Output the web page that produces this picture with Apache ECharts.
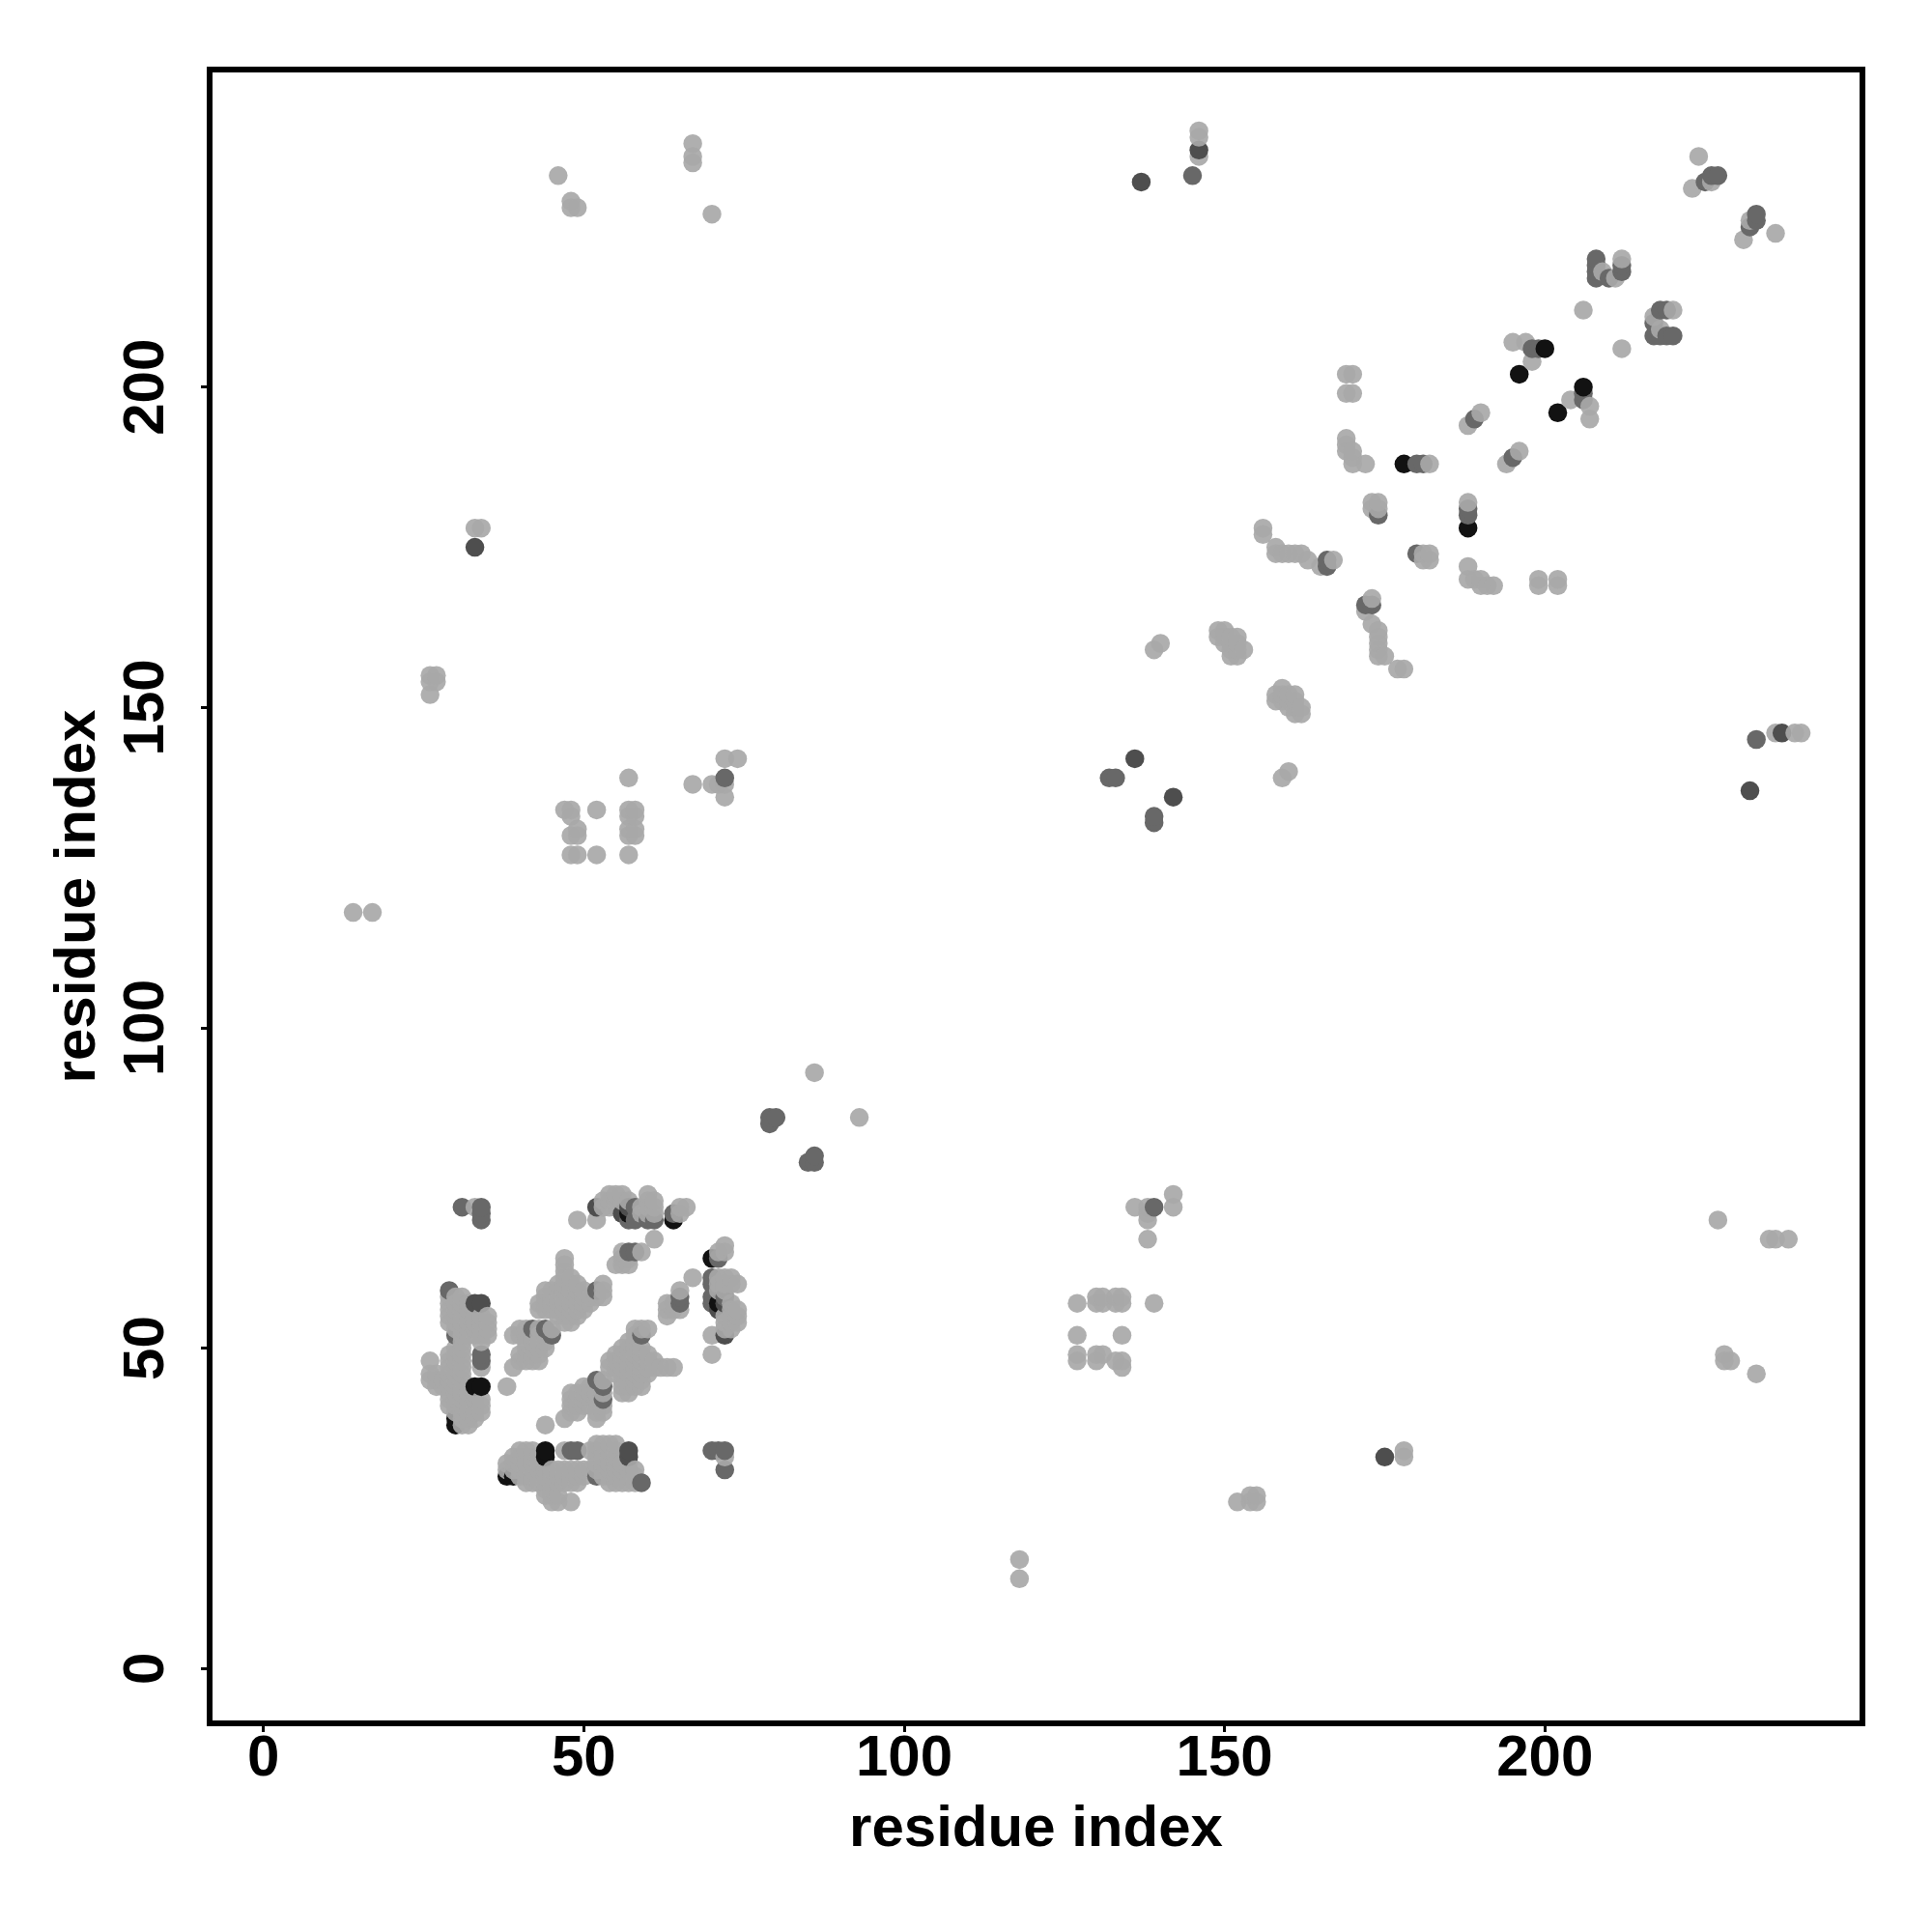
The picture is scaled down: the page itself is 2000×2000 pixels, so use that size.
<!DOCTYPE html>
<html>
<head>
<meta charset="utf-8">
<style>html,body{margin:0;padding:0;background:#fff}#chart{width:2000px;height:2000px}</style>
<script src="https://cdn.jsdelivr.net/npm/echarts@6/dist/echarts.min.js"></script>
</head>
<body>
<div id="chart"></div>
<script>
const tickLabels = [0, 50, 100, 150, 200];
const axisTitle = 'residue index';

const blackContacts = [[33,44],[34,44],[30,38],[30,39],[64,70],[57,71],[178,188],[196,202],[200,206]];
const darkContacts = [[33,175],[136,142],[137,232],[146,237],[52,72],[33,57],[34,57],[57,72],[56,71]];
const midContacts = [[79,85],[79,86],[80,86],[132,139],[133,139],[145,233],[225,232],[226,233],[227,233],
  [208,217],[208,218],[208,219],[208,220],[210,217],[212,218],[212,219],[198,206],[199,206],[189,195],
  [180,188],[181,188],[174,180],[166,172],[166,173],[31,72],[34,70],[34,71],[34,72],[29,59],[30,52],
  [34,48],[34,49],[42,53],[44,53],[45,52],[52,59],[57,65],[58,65],[57,70],[58,70],[60,70],[61,70],[64,71],[58,72],[72,139]];
const lightFar = [[14,118],[17,118],[26,152],[26,154],[26,155],[27,154],[27,155],[33,178],[34,178],
  [46,233],[48,228],[49,228],[48,229],[67,235],[67,236],[67,238],[70,227],[86,93],
  [57,127],[57,130],[57,131],[57,133],[57,134],[58,130],[58,131],[58,133],[58,134],[57,139],
  [52,134],[52,127],[47,134],[48,134],[48,133],[49,131],[48,130],[49,130],[48,127],[49,127],
  [67,138],[70,138],[71,138],[72,138],[72,136],[72,142],[74,142],[139,159],[140,160],
  [146,236],[146,239],[146,240]];
const lightUpper = [[224,236],[223,231],[226,232],[209,218],[211,217],[212,220],[206,212],[195,207],[197,207],
  [198,204],[188,194],[190,196],[169,190],[169,191],[169,192],[170,188],[170,189],[170,190],[172,188],[182,188],
  [169,199],[170,199],[169,202],[170,202],[173,181],[173,182],[174,181],[174,182],
  [156,177],[156,178],[158,174],[158,175],[159,174],[160,174],[161,174],[162,174],[163,173],[165,172],[167,173],
  [149,161],[149,162],[150,160],[150,161],[150,162],[151,158],[151,159],[151,160],[151,161],
  [152,158],[152,159],[152,160],[152,161],[153,159]];
const lightBandA = [[29,58],[30,58],[31,58],[29,57],[30,57],[31,57],[32,57],[29,56],[30,56],[31,56],[32,56],
  [29,55],[30,55],[31,55],[32,55],[33,55],[34,55],[35,55],[29,54],[30,54],[31,54],[32,54],[33,54],[34,54],[35,54],
  [30,53],[31,53],[32,53],[33,53],[34,53],[35,53],[31,52],[32,52],[33,52],[34,52],[35,52],[31,51],[34,51],
  [30,50],[31,50],[29,49],[30,49],[31,49],[26,48],[29,48],[30,48],[31,48],[29,47],[30,47],[31,47],[34,47],
  [26,46],[27,46],[29,46],[30,46],[31,46],[26,45],[27,45],[28,45],[29,45],[30,45],[31,45],
  [27,44],[28,44],[29,44],[30,44],[31,44],[32,44],[29,43],[30,43],[31,43],[32,43],[33,43],
  [29,42],[30,42],[31,42],[32,42],[33,42],[34,42],[29,41],[30,41],[31,41],[32,41],[33,41],[34,41],
  [30,40],[31,40],[32,40],[33,40],[34,40],[31,39],[32,39],[33,39],[31,38],[32,38],[33,72]];
const lightBandB = [[47,64],[47,63],[47,62],[47,61],[48,61],[46,60],[47,60],[48,60],[49,60],[53,60],
  [44,59],[45,59],[46,59],[47,59],[48,59],[49,59],[50,59],[53,59],
  [44,58],[45,58],[46,58],[47,58],[48,58],[49,58],[50,58],[51,58],[52,58],[53,58],
  [43,57],[44,57],[45,57],[46,57],[47,57],[48,57],[49,57],[50,57],[51,57],
  [43,56],[44,56],[45,56],[46,56],[47,56],[48,56],[49,56],[50,56],[46,55],[47,55],[48,55],[49,55],[47,54],[48,54]];
const lightBandC = [[40,53],[41,53],[43,53],[45,53],[39,52],[40,52],[41,52],[42,52],[43,52],[44,52],
  [41,51],[42,51],[43,51],[44,51],[41,50],[42,50],[43,50],[44,50],[40,49],[41,49],[42,49],[43,49],
  [40,48],[41,48],[42,48],[43,48],[39,47],[38,44]];
const lightBandD = [[49,70],[52,70],[53,72],[53,73],[54,72],[54,73],[54,74],[55,72],[55,73],[55,74],[56,73],[56,74],
  [57,73],[59,71],[59,72],[60,71],[60,72],[60,73],[60,74],[61,71],[61,72],[61,73],[61,67],[65,71],[65,72],[66,72],
  [55,63],[56,63],[57,63],[56,64],[57,64],[56,65],[59,65]];
const lightContacts = [].concat(lightFar, lightUpper, lightBandA, lightBandB, lightBandC, lightBandD);

const shades = [
  { pairs: lightContacts, color: 'rgb(168,168,168)', opacity: 0.92 },
  { pairs: midContacts, color: '#686868', opacity: 1 },
  { pairs: darkContacts, color: '#4e4e4e', opacity: 1 },
  { pairs: blackContacts, color: '#121212', opacity: 1 }
];

const points = [];
shades.forEach(function (s) {
  s.pairs.forEach(function (p) {
    const style = { color: s.color, opacity: s.opacity };
    points.push({ value: [p[0], p[1]], itemStyle: style });
    points.push({ value: [p[1], p[0]], itemStyle: style });
  });
});
points.sort(function (a, b) { return a.value[0] - b.value[0] || a.value[1] - b.value[1]; });

const font = { fontFamily: 'Liberation Sans', fontWeight: 'bold', fontSize: 60, color: '#000' };

const chart = echarts.init(document.getElementById('chart'), null, { renderer: 'canvas' });
chart.setOption({
  animation: false,
  backgroundColor: '#fff',
  grid: { left: 217, top: 72, width: 1711, height: 1712, show: true, borderColor: '#000', borderWidth: 6, backgroundColor: 'transparent' },
  xAxis: {
    type: 'value', min: -8.4, max: 249.56,
    name: axisTitle, nameLocation: 'middle', nameGap: 80,
    nameTextStyle: font,
    axisLine: { show: false, onZero: false },
    axisTick: { show: true, length: 9, inside: false, customValues: tickLabels, lineStyle: { color: '#000', width: 3 } },
    axisLabel: Object.assign({ margin: 7, customValues: tickLabels, hideOverlap: false }, font),
    splitLine: { show: false }
  },
  yAxis: {
    type: 'value', min: -8.56, max: 249.56,
    name: axisTitle, nameLocation: 'middle', nameGap: 106, nameRotate: 90,
    nameTextStyle: font,
    axisLine: { show: false, onZero: false },
    axisTick: { show: true, length: 9, inside: false, customValues: tickLabels, lineStyle: { color: '#000', width: 3 } },
    axisLabel: Object.assign({ margin: 35, rotate: 90, customValues: tickLabels, hideOverlap: false }, font),
    splitLine: { show: false }
  },
  series: [{
    type: 'scatter',
    symbol: 'circle',
    symbolSize: 19.5,
    silent: true,
    large: false,
    data: points
  }]
});
</script>
</body>
</html>
